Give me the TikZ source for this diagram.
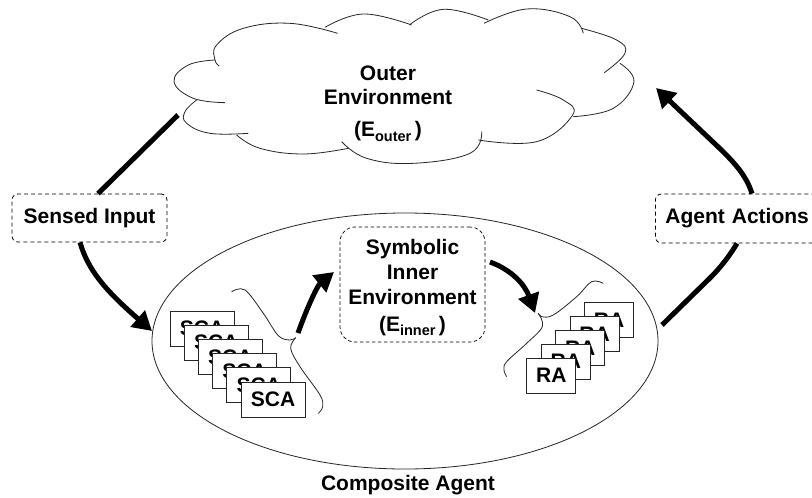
\documentclass[tikz,border=0pt]{standalone}
\usepackage{fontspec}
\setmainfont{Liberation Sans}
\usetikzlibrary{arrows.meta,positioning}
\newcommand{\subtxt}[1]{\raisebox{-4.5pt}{\fontsize{14.5}{14.5}\selectfont #1}}
\tikzset{
 thin line/.style={draw=black!85,line width=0.8pt},
 dashbox/.style={draw=black,line width=0.8pt,dash pattern=on 4pt off 3pt,rounded corners=6pt,fill=white,align=center,font=\bfseries\fontsize{21}{25}\selectfont,inner sep=0pt},
 agentbox/.style={draw=black!85,line width=1pt,fill=white,font=\bfseries\fontsize{21}{24}\selectfont,inner sep=0pt},
 thick arrow/.style={line width=5pt,-{Triangle[length=19pt,width=21pt]}},
 thick stub/.style={line width=5pt},
 label text/.style={font=\bfseries\fontsize{21}{25}\selectfont,align=center,inner sep=0pt},
}
\begin{document}
\begin{tikzpicture}[x=1pt,y=-1pt]
\useasboundingbox (0,0) rectangle (812,498);
\fill[white] (0,0) rectangle (812,498);
% cloud
\begin{scope}[shift={(160,0)},x=0.3333pt,y=-0.3333pt,thin line]
\draw plot[smooth,tension=.7] coordinates {(178,198)(165,180)(170,135)(250,85)(390,70)(533,100)};
\draw plot[smooth,tension=.7] coordinates {(495,82)(610,42)(755,75)};
\draw plot[smooth,tension=.7] coordinates {(748,75)(850,28)(985,60)};
\draw plot[smooth,tension=.7] coordinates {(972,70)(1100,27)(1230,50)(1270,100)};
\draw plot[smooth,tension=.7] coordinates {(1265,85)(1370,120)(1395,160)(1333,218)};
\draw plot[smooth,tension=.7] coordinates {(1380,190)(1422,245)(1360,325)(1240,350)};
\draw plot[smooth,tension=.7] coordinates {(1130,270)(1210,300)(1238,345)(1130,425)(955,420)};
\draw plot[smooth,tension=.7] coordinates {(965,395)(930,460)(760,490)(620,475)(545,425)};
\draw plot[smooth,tension=.7] coordinates {(565,445)(430,462)(300,445)(230,405)};
\draw plot[smooth,tension=.7] coordinates {(265,400)(150,400)(80,370)(75,335)(110,300)};
\draw plot[smooth,tension=.7] coordinates {(195,308)(100,295)(42,245)(85,195)(165,180)};
\end{scope}
\node[label text] (outer) at (388,103.5) {Outer\\[-1pt]Environment\\[7pt](E\subtxt{outer}\,)};
% ellipse
\draw[thin line] (405,341) ellipse [x radius=253,y radius=128];
\node[label text] (composite) at (408,485) {Composite Agent};
% boxes
\node[dashbox,minimum width=155pt,minimum height=48pt] (sensed) at (89.5,218) {Sensed Input};
\node[dashbox,anchor=west,text width=166pt,align=left,minimum height=49pt] (actions) at (655,218.5) {\hspace*{10pt}Agent Actions};
\node[dashbox,line width=0.7pt,dash pattern=on 3.5pt off 2.5pt,minimum width=145pt,minimum height=115pt,rounded corners=15pt] (inner) at (412.5,284.5) {\rule{0pt}{21pt}Symbolic\\Inner\\Environment\\[2pt](E\subtxt{inner}\,)};
% SCA
\foreach \i [evaluate=\i as \xx using 202+14.2*\i, evaluate=\i as \yy using 328.5+14.2*\i] in {0,...,5}
  \node[agentbox,minimum width=64pt,minimum height=35pt] (sca\i) at (\xx,\yy) {SCA};
% RA
\foreach \i [evaluate=\i as \xx using 609-14.4*\i, evaluate=\i as \yy using 320+13.9*\i] in {0,...,4}
  \node[agentbox,minimum width=49pt,minimum height=35pt] (ra\i) at (\xx,\yy) {RA};
% braces
\begin{scope}[shift={(130,270)},x=0.3333pt,y=-0.3333pt]
\draw[thin line] plot[smooth,tension=.6] coordinates {(305,65)(345,60)(400,130)(445,197)(480,210)(497,203)};
\draw[thin line] plot[smooth,tension=.6] coordinates {(497,203)(482,235)(510,290)(570,375)(578,410)(565,430)};
\end{scope}
\begin{scope}[shift={(480,270)},x=0.3333pt,y=-0.3333pt]
\draw[thin line] plot[smooth,tension=.6] coordinates {(370,40)(335,35)(290,80)(220,135)(185,140)(175,130)};
\draw[thin line] plot[smooth,tension=.6] coordinates {(175,130)(187,170)(140,220)(80,275)(72,300)(80,320)};
\end{scope}
% connectors
\coordinate (cloudL) at (178,115);
\coordinate (cloudR) at (656,88);
\coordinate (ellL) at (152,331);
\coordinate (ellR) at (662,325);
\coordinate (inL) at (334,272);
\coordinate (scastart) at (298,333);
\coordinate (rastart) at (490,262);
\coordinate (raend) at (535,313);
\draw[thick stub] (cloudL) -- (98,0 |- sensed.north);
\draw[thick arrow] (80,0 |- sensed.south) .. controls (88,270) and (105,290) .. (ellL);
\draw[thick stub] (ellR) -- (710,278) .. controls (722,266) and (730,255) .. (737,0 |- actions.south);
\draw[thick arrow] (752,0 |- actions.north) .. controls (746,174) and (732,160) .. (713,142) -- (cloudR);
\draw[thick arrow] (scastart) .. controls (308,305) and (318,285) .. (inL);
\draw[thick arrow] (rastart) .. controls (512,270) and (525,285) .. (raend);
\end{tikzpicture}
\end{document}
